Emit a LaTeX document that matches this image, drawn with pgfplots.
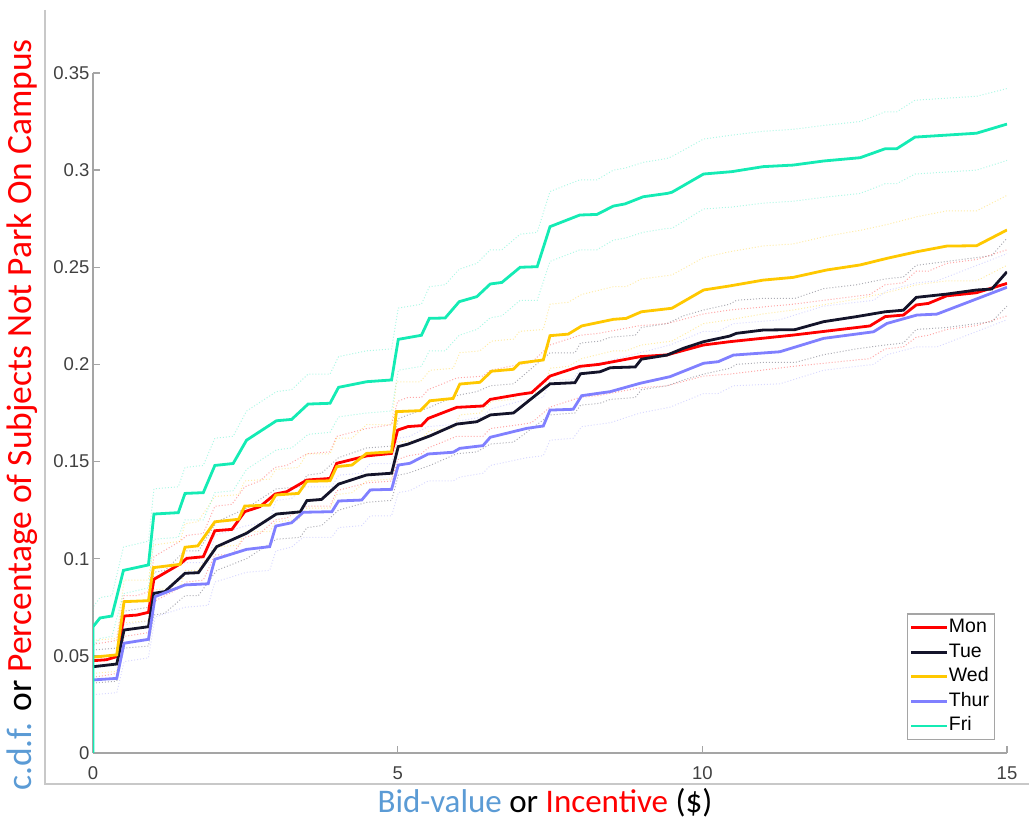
\documentclass[border=0pt]{standalone}
\usepackage{pgfplots}
\pgfplotsset{compat=1.18}
\usepackage{pgfplotstable}
\usepackage{fontspec}
\setmainfont{Liberation Sans}
\newfontfamily\calib{Carlito}
\definecolor{cMon}{RGB}{255,0,0}
\definecolor{cTue}{RGB}{20,20,42}
\definecolor{cWed}{RGB}{255,200,0}
\definecolor{cThu}{RGB}{128,128,255}
\definecolor{cFri}{RGB}{20,235,180}
\definecolor{lblue}{RGB}{91,155,213}
\definecolor{tickgray}{RGB}{64,64,64}
\definecolor{axgray}{RGB}{165,165,165}
\definecolor{frgray}{RGB}{200,200,200}

\pgfplotstableread{
x y lo hi
0 0.0475 0.039 0.056
0.22 0.048 0.040 0.057
0.39 0.0496 0.041 0.058
0.51 0.0705 0.060 0.081
0.72 0.071 0.061 0.081
0.91 0.0724 0.062 0.083
1.0 0.0894 0.078 0.101
1.43 0.0973 0.085 0.109
1.54 0.1002 0.088 0.112
1.81 0.101 0.089 0.113
2.0 0.1144 0.102 0.127
2.28 0.1151 0.102 0.128
2.49 0.1242 0.111 0.137
2.74 0.1268 0.113 0.140
2.99 0.1333 0.120 0.147
3.18 0.1345 0.121 0.148
3.51 0.1405 0.127 0.154
3.89 0.1413 0.127 0.155
4.0 0.1491 0.135 0.163
4.49 0.1529 0.139 0.167
4.9 0.1542 0.140 0.169
5.0 0.1662 0.151 0.181
5.17 0.168 0.153 0.183
5.39 0.1685 0.154 0.183
5.5 0.1722 0.157 0.187
5.97 0.1779 0.163 0.193
6.4 0.1786 0.163 0.194
6.52 0.182 0.167 0.197
7.0 0.1846 0.169 0.200
7.2 0.1855 0.170 0.201
7.5 0.194 0.178 0.210
7.99 0.199 0.183 0.215
8.3 0.2 0.184 0.216
8.98 0.204 0.188 0.220
9.42 0.2049 0.189 0.221
10.02 0.21 0.194 0.226
10.45 0.2117 0.195 0.228
11.49 0.2151 0.199 0.231
12.75 0.2198 0.203 0.236
13.0 0.2246 0.208 0.241
13.3 0.2254 0.209 0.242
13.51 0.2306 0.214 0.248
13.71 0.2314 0.215 0.248
14.01 0.2353 0.218 0.252
14.5 0.2369 0.220 0.254
15 0.2417 0.225 0.259
}\monT

\pgfplotstableread{
x y lo hi
0 0.0444 0.036 0.053
0.39 0.0458 0.037 0.054
0.51 0.0633 0.054 0.073
0.91 0.065 0.055 0.075
1.0 0.0822 0.071 0.093
1.18 0.0831 0.072 0.094
1.51 0.0925 0.081 0.104
1.73 0.0928 0.081 0.104
2.03 0.1062 0.094 0.119
2.52 0.1131 0.100 0.126
3.01 0.123 0.110 0.136
3.4 0.1241 0.111 0.137
3.51 0.1299 0.116 0.143
3.75 0.1305 0.117 0.144
4.03 0.1384 0.125 0.152
4.49 0.1431 0.129 0.157
4.9 0.144 0.130 0.158
5.01 0.1577 0.143 0.172
5.17 0.159 0.144 0.174
5.53 0.1632 0.148 0.178
5.97 0.1693 0.154 0.184
6.3 0.1705 0.155 0.186
6.52 0.174 0.159 0.189
6.9 0.175 0.160 0.190
7.5 0.19 0.174 0.206
7.91 0.1906 0.175 0.206
8.0 0.1952 0.179 0.211
8.32 0.1962 0.180 0.212
8.49 0.1983 0.182 0.214
8.9 0.1987 0.183 0.215
9.0 0.2027 0.187 0.219
9.42 0.2048 0.189 0.221
9.69 0.2083 0.192 0.225
10.02 0.2117 0.195 0.228
10.45 0.2146 0.198 0.231
10.56 0.216 0.200 0.233
11.0 0.2177 0.201 0.234
11.52 0.2179 0.201 0.234
11.99 0.222 0.205 0.239
12.53 0.2246 0.208 0.241
13.0 0.2271 0.210 0.244
13.3 0.2279 0.211 0.245
13.51 0.2345 0.218 0.251
14.01 0.2362 0.219 0.253
14.5 0.2383 0.221 0.255
14.75 0.2388 0.222 0.256
15 0.2477 0.230 0.265
}\tueT

\pgfplotstableread{
x y lo hi
0 0.0493 0.041 0.058
0.39 0.0505 0.042 0.059
0.51 0.0779 0.067 0.089
0.91 0.0784 0.068 0.089
0.99 0.0954 0.084 0.107
1.43 0.0971 0.085 0.109
1.51 0.1059 0.094 0.118
1.72 0.1066 0.094 0.119
2.0 0.119 0.106 0.132
2.39 0.1203 0.107 0.133
2.49 0.1271 0.114 0.140
2.9 0.1276 0.114 0.141
3.0 0.1328 0.119 0.146
3.37 0.1336 0.120 0.147
3.51 0.1398 0.126 0.154
3.89 0.1401 0.126 0.154
4.0 0.1474 0.133 0.162
4.25 0.1482 0.134 0.162
4.49 0.1542 0.140 0.169
4.9 0.155 0.141 0.169
4.98 0.1757 0.160 0.191
5.37 0.1762 0.161 0.191
5.53 0.1813 0.166 0.197
5.91 0.1825 0.167 0.198
6.02 0.1899 0.174 0.206
6.35 0.1908 0.175 0.207
6.54 0.1965 0.181 0.212
6.9 0.1975 0.182 0.213
7.0 0.2007 0.185 0.217
7.39 0.2023 0.186 0.218
7.5 0.2148 0.198 0.231
7.8 0.2156 0.199 0.232
8.02 0.2198 0.203 0.236
8.54 0.2232 0.207 0.240
8.75 0.2237 0.207 0.240
9.0 0.2271 0.210 0.244
9.5 0.2289 0.212 0.246
10.02 0.2383 0.221 0.255
10.45 0.2404 0.223 0.258
11.0 0.2434 0.226 0.261
11.49 0.2448 0.228 0.262
12.04 0.2486 0.231 0.266
12.59 0.2512 0.234 0.269
13.03 0.2546 0.237 0.272
13.52 0.258 0.241 0.276
14.01 0.2609 0.243 0.279
14.5 0.2611 0.243 0.279
15 0.2692 0.251 0.287
}\wedT

\pgfplotstableread{
x y lo hi
0 0.0376 0.030 0.045
0.39 0.0384 0.031 0.046
0.51 0.0565 0.047 0.066
0.91 0.0585 0.049 0.068
1.02 0.0805 0.070 0.091
1.51 0.0865 0.075 0.098
1.89 0.0871 0.076 0.098
2.0 0.0997 0.088 0.112
2.52 0.1048 0.093 0.117
2.9 0.1062 0.094 0.119
3.0 0.1168 0.104 0.130
3.26 0.1185 0.106 0.131
3.45 0.1239 0.111 0.137
3.92 0.1242 0.111 0.137
4.03 0.1297 0.116 0.143
4.41 0.1302 0.117 0.144
4.55 0.1354 0.122 0.149
4.9 0.1357 0.122 0.149
5.01 0.1482 0.134 0.162
5.2 0.1491 0.135 0.163
5.5 0.1539 0.140 0.168
5.91 0.1548 0.140 0.169
6.02 0.1568 0.142 0.171
6.4 0.1582 0.144 0.173
6.52 0.1625 0.148 0.177
7.12 0.1671 0.152 0.182
7.39 0.1683 0.153 0.183
7.5 0.1765 0.161 0.192
7.88 0.1769 0.162 0.192
8.02 0.1839 0.168 0.199
8.49 0.186 0.170 0.202
8.98 0.1903 0.175 0.206
9.47 0.1937 0.178 0.210
10.02 0.2006 0.185 0.217
10.26 0.2014 0.185 0.217
10.51 0.2048 0.189 0.221
11.27 0.2065 0.190 0.223
11.99 0.2134 0.197 0.230
12.81 0.2168 0.200 0.233
13.03 0.2211 0.205 0.238
13.52 0.2254 0.209 0.242
13.85 0.2259 0.209 0.243
15 0.2397 0.223 0.257
}\thuT

\pgfplotstableread{
x y lo hi
0 0 0 0
0 0.065 0.055 0.075
0.115 0.0695 0.059 0.080
0.31 0.0705 0.060 0.081
0.5 0.094 0.082 0.106
0.91 0.0968 0.085 0.109
1.0 0.123 0.110 0.136
1.4 0.1237 0.111 0.137
1.51 0.1336 0.120 0.147
1.81 0.134 0.120 0.148
2.0 0.148 0.134 0.162
2.3 0.149 0.135 0.163
2.52 0.161 0.146 0.176
3.01 0.171 0.156 0.186
3.26 0.1717 0.157 0.187
3.53 0.1796 0.164 0.195
3.89 0.18 0.165 0.195
4.03 0.1882 0.173 0.204
4.49 0.1911 0.175 0.207
4.9 0.192 0.176 0.208
5.01 0.2129 0.197 0.229
5.39 0.215 0.199 0.231
5.52 0.2237 0.207 0.240
5.78 0.2239 0.207 0.241
6.01 0.2323 0.215 0.249
6.3 0.2349 0.218 0.252
6.52 0.2414 0.224 0.259
6.71 0.2422 0.225 0.259
7.01 0.25 0.233 0.267
7.29 0.2503 0.233 0.268
7.5 0.2709 0.253 0.289
7.99 0.2769 0.259 0.295
8.27 0.2772 0.259 0.295
8.54 0.2815 0.264 0.300
8.73 0.2826 0.265 0.301
9.03 0.2863 0.268 0.304
9.42 0.288 0.270 0.306
9.5 0.2886 0.270 0.307
10.02 0.298 0.280 0.316
10.48 0.2992 0.281 0.318
11.0 0.3018 0.283 0.320
11.49 0.3026 0.284 0.321
11.99 0.3047 0.286 0.323
12.59 0.3064 0.288 0.325
13.0 0.311 0.293 0.330
13.19 0.311 0.293 0.330
13.49 0.317 0.298 0.336
14.5 0.319 0.300 0.338
15 0.3237 0.305 0.342
}\friT

\begin{document}
\begin{tikzpicture}[x=1pt,y=1pt]
\useasboundingbox (0,0) rectangle (1029,821);
\draw[frgray, line width=1.2pt] (45,811) -- (45,37) -- (1029,37);
\begin{axis}[
  at={(93pt,68pt)}, anchor=south west,
  width=914pt, height=680pt, scale only axis,
  xmin=0, xmax=15, ymin=0, ymax=0.35,
  axis x line*=bottom, axis y line*=left,
  tick align=inside, major tick length=7pt,
  xtick={0,5,10,15},
  ytick={0,0.05,0.1,0.15,0.2,0.25,0.3,0.35},
  yticklabels={0,0.05,0.1,0.15,0.2,0.25,0.3,0.35},
  xticklabels={0,5,10,15},
  tick label style={font=\fontsize{18.5}{20}\selectfont, text=tickgray},
  /pgf/number format/assume math mode=true,
  axis line style={axgray, line width=1.3pt},
  tick style={axgray, line width=1.3pt},
  xticklabel style={yshift=-10pt},
  legend style={at={(0.987,0.019)}, anchor=south east, draw=axgray, line width=1.2pt,
    font=\fontsize{19.5}{21}\selectfont, row sep=3.6pt, inner xsep=4pt, inner ysep=3pt,
    nodes={inner sep=1.5pt, text height=14pt, text depth=4pt}},
  legend cell align=left,
  legend image code/.code={\fill[#1, draw=none] (0pt,-1.4pt) rectangle (36pt,1.4pt);},
]
% confidence bounds
\addplot[cMon, dotted, line width=1pt, opacity=0.35, forget plot] table[x=x,y=lo]{\monT};
\addplot[cMon, dotted, line width=1pt, opacity=0.35, forget plot] table[x=x,y=hi]{\monT};
\addplot[cTue, dotted, line width=1pt, opacity=0.35, forget plot] table[x=x,y=lo]{\tueT};
\addplot[cTue, dotted, line width=1pt, opacity=0.35, forget plot] table[x=x,y=hi]{\tueT};
\addplot[cWed, dotted, line width=1pt, opacity=0.35, forget plot] table[x=x,y=lo]{\wedT};
\addplot[cWed, dotted, line width=1pt, opacity=0.35, forget plot] table[x=x,y=hi]{\wedT};
\addplot[cThu, dotted, line width=1pt, opacity=0.3, forget plot] table[x=x,y=lo]{\thuT};
\addplot[cThu, dotted, line width=1pt, opacity=0.3, forget plot] table[x=x,y=hi]{\thuT};
\addplot[cFri, dotted, line width=1pt, opacity=0.35, forget plot] table[x=x,y=lo]{\friT};
\addplot[cFri, dotted, line width=1pt, opacity=0.35, forget plot] table[x=x,y=hi]{\friT};
% main curves
\addplot[cMon, line width=2.8pt] table[x=x,y=y]{\monT};
\addlegendentry{Mon}
\addplot[cTue, line width=2.8pt] table[x=x,y=y]{\tueT};
\addlegendentry{Tue}
\addplot[cWed, line width=2.8pt] table[x=x,y=y]{\wedT};
\addlegendentry{Wed}
\addplot[cThu, line width=2.8pt] table[x=x,y=y]{\thuT};
\addlegendentry{Thur}
\addplot[cFri, line width=2.8pt] table[x=x,y=y]{\friT};
\addlegendentry{Fri}
\end{axis}
\node[rotate=90, font=\calib\fontsize{35.5}{38}\selectfont] at (22,406)
  {\textcolor{lblue}{c.d.f.} or \textcolor{red}{Percentage of Subjects Not Park On Campus}};
\node[font=\calib\fontsize{33}{36}\selectfont] at (545,18)
  {\textcolor{lblue}{Bid-value} or \textcolor{red}{Incentive} (\$)};
\end{tikzpicture}
\end{document}
